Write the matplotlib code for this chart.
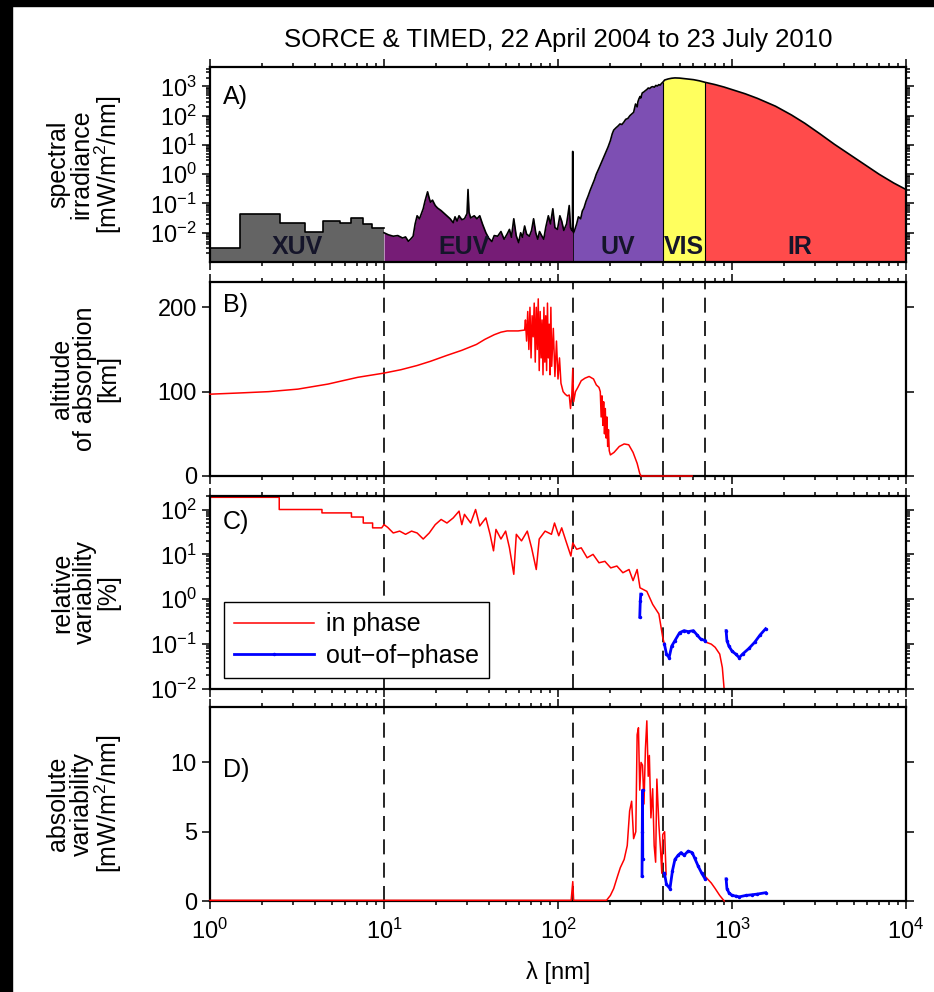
import numpy as np
import matplotlib
matplotlib.use('Agg')
import matplotlib.pyplot as plt
from matplotlib.patches import Rectangle
from matplotlib.lines import Line2D
from matplotlib.ticker import LogLocator, FixedLocator, NullFormatter, FixedFormatter
import matplotlib.transforms as mtransforms

plt.rcParams['font.family'] = ['Liberation Sans', 'DejaVu Sans']
plt.rcParams['mathtext.fontset'] = 'custom'
plt.rcParams['mathtext.rm'] = 'Liberation Sans'
plt.rcParams['mathtext.it'] = 'Liberation Sans:italic'
plt.rcParams['mathtext.bf'] = 'Liberation Sans:bold'
plt.rcParams['font.size'] = 17

nan = np.nan

# ---------------- data ----------------
title = "SORCE & TIMED, 22 April 2004 to 23 July 2010"
x_ticks = [1, 10, 100, 1000, 10000]
x_tick_labels = ['$10^{0}$', '$10^{1}$', '$10^{2}$', '$10^{3}$', '$10^{4}$']
region_bounds = [10, 121.6, 400, 700]
region_names = ['XUV', 'EUV', 'UV', 'VIS', 'IR']
region_label_pos = [3.16, 28.8, 221, 530, 2460]

# Panel A: spectral irradiance [mW/m^2/nm]
xuv_edges = [1.0, 1.49, 2.52, 3.51, 4.47, 5.6, 6.5, 7.6, 8.5, 10.0]
xuv_irr = [3.0e-3, 0.045, 0.022, 0.011, 0.026, 0.022, 0.033, 0.020, 0.014]

euv_lam = [10.0, 10.6, 11.3, 12.0, 12.8, 13.3, 13.8, 14.2, 14.7, 15.1,
           15.5, 16.0, 16.8, 17.2, 17.8, 18.2, 18.5, 19.0, 19.7, 20.3,
           21.3, 22.0, 23.0, 24.0, 25.0, 25.6, 26.3, 27.0, 28.0, 29.0,
           30.0, 30.4, 30.8, 31.5, 33.0, 34.2, 35.5, 36.8, 38.5, 40.0,
           41.7, 43.0, 45.0, 47.0, 49.0, 51.0, 52.6, 54.0, 55.7, 57.5,
           59.4, 61.0, 62.5, 64.3, 66.0, 68.5, 70.5, 72.4, 74.5, 76.5,
           78.3, 80.5, 82.8, 85.0, 88.0, 90.5, 93.4, 96.0, 99.3, 102.5,
           105.0, 108.0, 112.0, 114.0, 116.0, 118.0, 120.0, 121.2, 121.5, 121.6]
euv_irr = [0.010, 0.0085, 0.0076, 0.0080, 0.0066, 0.0072, 0.0051, 0.0060, 0.0076, 0.020,
           0.038, 0.030, 0.066, 0.12, 0.25, 0.15, 0.11, 0.13, 0.085, 0.070,
           0.057, 0.048, 0.038, 0.030, 0.022, 0.035, 0.025, 0.038, 0.028, 0.030,
           0.045, 0.30, 0.050, 0.032, 0.038, 0.030, 0.038, 0.020, 0.010, 0.0065,
           0.0050, 0.0080, 0.0076, 0.011, 0.0060, 0.0090, 0.013, 0.0070, 0.030, 0.0080,
           0.0046, 0.010, 0.0070, 0.017, 0.0090, 0.0076, 0.012, 0.030, 0.010, 0.0060,
           0.011, 0.0080, 0.0060, 0.015, 0.038, 0.020, 0.066, 0.015, 0.013, 0.038,
           0.025, 0.012, 0.020, 0.040, 0.085, 0.015, 0.012, 0.012, 6.0, 0.012]

uv_lam = [121.6, 123, 125, 128, 131, 135, 138, 141, 145, 149,
          153, 158, 162, 166, 172, 179, 186, 194, 200, 205,
          209, 215, 222, 227, 233, 239, 245, 252, 259, 266,
          272, 279, 285, 288, 292, 296, 299, 305, 312, 318,
          324, 330, 337, 344, 350, 358, 365, 372, 380, 386,
          393, 400]
uv_irr = [0.012, 0.010, 0.013, 0.020, 0.035, 0.030, 0.055, 0.07, 0.12, 0.18,
          0.28, 0.45, 0.65, 1.0, 1.6, 2.8, 4.8, 8.5, 14, 24,
          32, 38, 45, 52, 50, 60, 75, 80, 100, 115,
          130, 250, 200, 300, 380, 450, 400, 600, 650, 720,
          780, 880, 850, 950, 980, 940, 1080, 1030, 1150, 1100,
          1250, 1380]

vis_lam = [400, 410, 430, 450, 470, 500, 530, 560, 600, 650, 700]
vis_irr = [1380, 1650, 1800, 1900, 1950, 1920, 1850, 1800, 1700, 1550, 1380]

ir_lam = [700, 800, 900, 1000, 1190, 1400, 1780, 2200, 2620, 3200, 3880, 4700, 5750, 7000, 8500, 10000]
ir_irr = [1380, 1150, 950, 780, 560, 390, 210, 105, 55, 24, 10.5, 4.9, 2.2, 1.0, 0.5, 0.30]

# Panel B: altitude of absorption [km]
alt_lam = [1, 1.5, 2.17, 3.2, 4.77, 5.8, 7.07, 10, 12.5, 15.5,
           18.5, 23, 28, 34, 38, 43, 47, 51, 59, 64.3,
           65, 66, 67, 68, 69, 70, 71, 72, 73, 74,
           75, 76, 77, 78, 79, 80, 81, 82, 83, 84,
           85, 86, 87, 88, 89, 90, 91, 92, 94, 96,
           98, 100, 102, 104, 107, 110, 113, 116, 118, 120,
           121.6, 123, 126, 130, 136, 143, 151, 160, 166, 172,
           175, 177, 179, 181, 183, 185, 187, 189, 191, 193,
           195, 197, 200, 210, 225, 240, 255, 270, 285, 295,
           300, 590]
alt_km = [97, 98.5, 100, 103, 109, 113, 117, 122, 126, 131,
          136, 143, 149, 156, 162, 167.5, 170.5, 172, 172, 173,
          185, 160, 195, 150, 200, 140, 190, 165, 205, 135,
          200, 150, 210, 125, 195, 140, 185, 120, 200, 135,
          190, 125, 205, 140, 180, 120, 200, 130, 175, 118,
          160, 115, 140, 110, 100, 97, 95, 96, 80, 95,
          127, 88, 100, 105, 113, 116, 118, 115, 108, 105,
          100, 70, 95, 60, 88, 50, 80, 45, 70, 35,
          55, 30, 25, 28, 35, 38, 37, 28, 15, 3,
          0, 0]

# Panel C: relative variability [%]
rel_in_lam = [1, 2.5, 2.5, 4.4, 4.4, 6.5, 6.5, 7.6, 7.6, 8.6,
              8.6, 9.7, 10.0, 10.5, 11.3, 12.3, 13.3, 14.4, 15.5, 16.8,
              18.2, 19.7, 21.3, 23, 25, 27, 28, 29, 31.5, 33.6,
              35.5, 38.5, 40.7, 42.6, 44, 47, 50, 52.6, 55.7, 57.6,
              61.7, 66.6, 70.5, 75, 78, 84.3, 91.7, 95.5, 101, 105,
              111, 118.6, 121.6, 128, 136, 147, 159, 172, 186, 201,
              218, 236, 256, 270, 285, 296, 324, 350, 380, 400,
              409, nan, 710, 760, 800, 850, 880, 902]
rel_in_pct = [187, 187, 100, 100, 84, 84, 68, 68, 50, 50,
              39, 39, 46, 40, 30, 33, 28, 33, 30, 22,
              30, 46, 60, 50, 65, 92, 46, 78, 50, 100,
              43, 65, 28, 12, 36, 22, 33, 14, 3.6, 28,
              20, 33, 14, 4.6, 22, 33, 28, 50, 26, 39,
              20, 9.2, 18, 13, 14, 8.4, 10, 6.5, 7, 5,
              5.5, 3.9, 4.6, 2.6, 4.6, 1.8, 1.5, 0.77, 0.47, 0.14,
              0.1, nan, 0.11, 0.1, 0.085, 0.06, 0.03, 0.0095]
rel_out_lam = [295, 297, 299, nan,
               409, 420, 435, 450, 470, 500, 530, 560, 600, 630, 660, 700, nan,
               925, 935, 960, 1000, 1050, 1100, 1150, 1250, 1350, 1450, 1560]
rel_out_pct = [0.4, 0.9, 1.3, nan,
               0.1, 0.06, 0.05, 0.09, 0.12, 0.18, 0.2, 0.19, 0.2, 0.16, 0.13, 0.12, nan,
               0.2, 0.12, 0.09, 0.07, 0.06, 0.05, 0.06, 0.08, 0.11, 0.16, 0.22]

# Panel D: absolute variability [mW/m^2/nm]
abs_in_lam = [1, 10, 100, 119, 121.6, 123, 190, 200, 209, 220,
              228, 240, 250, 258, 265, 272, 280, 285, 290, 295,
              300, 306, 312, 318, 324, 330, 335, 342, 350, 357,
              364, 370, 380, 388, 395, 400, 410, 418, nan, 710,
              760, 800, 850, 902]
abs_in_val = [0.05, 0.05, 0.05, 0.05, 1.4, 0.05, 0.05, 0.4, 0.9, 1.8,
              2.4, 3.0, 4.0, 6.5, 7.2, 4.5, 5.0, 12.0, 12.5, 8.0,
              10.0, 9.8, 7.0, 11.0, 13.0, 9.0, 10.5, 6.0, 8.1, 4.0,
              2.8, 8.8, 5.5, 3.8, 2.0, 4.8, 5.0, 1.9, nan, 1.7,
              1.3, 0.9, 0.4, 0.0]
abs_out_lam = [304, 305, 306, 307, nan,
               409, 420, 440, 455, 470, 490, 510, 530, 560, 590, 610, 640, 670, 700, nan,
               925, 935, 960, 1000, 1060, 1100, 1200, 1300, 1400, 1560]
abs_out_val = [1.8, 5.0, 8.0, 3.0, nan,
               2.0, 1.2, 0.9, 2.2, 3.0, 3.3, 3.5, 3.3, 3.6, 3.5, 3.1, 2.5, 2.0, 1.6, nan,
               1.6, 0.9, 0.6, 0.4, 0.35, 0.3, 0.4, 0.45, 0.5, 0.6]

# ---------------- figure ----------------
W, H = 934, 992
fig = plt.figure(figsize=(W / 100, H / 100), dpi=100)
fig.patch.set_facecolor('white')


def px_axes(l, t, r, b):
    return fig.add_axes([l / W, 1 - b / H, (r - l) / W, (b - t) / H])


axA = px_axes(210, 67, 906, 262)
axB = px_axes(210, 282, 906, 476)
axC = px_axes(210, 496, 906, 689)
axD = px_axes(210, 707, 906, 901)
axes = [axA, axB, axC, axD]

for ax in axes:
    ax.set_xscale('log')
    ax.set_xlim(1, 1e4)
    ax.xaxis.set_major_locator(FixedLocator(x_ticks))
    ax.xaxis.set_minor_locator(LogLocator(base=10, subs=np.arange(2, 10), numticks=20))
    ax.xaxis.set_minor_formatter(NullFormatter())
    ax.tick_params(which='both', direction='out', top=True, right=True, width=1.1)
    ax.tick_params(which='major', length=6)
    ax.tick_params(which='minor', length=3)
    for s in ax.spines.values():
        s.set_linewidth(1.6)
for ax in [axA, axB, axC]:
    ax.tick_params(labelbottom=False)
axD.xaxis.set_major_formatter(FixedFormatter(x_tick_labels))
axD.tick_params(axis='x', pad=7)

# ---- Panel A ----
axA.set_yscale('log')
axA.set_ylim(1e-3, 4.6e3)
ybot = 1e-3
xe = np.array(xuv_edges)
xv = np.append(np.array(xuv_irr), xuv_irr[-1])
axA.fill_between(xe, ybot, xv, step='post', color='#646464', lw=0)
axA.fill_between(euv_lam, ybot, euv_irr, color='#761c76', lw=0)
axA.fill_between(uv_lam, ybot, uv_irr, color='#7d4fb3', lw=0)
axA.fill_between(vis_lam, ybot, vis_irr, color='#ffff5e', lw=0)
axA.fill_between(ir_lam, ybot, ir_irr, color='#ff4b4b', lw=0)
axA.step(xe, xv, where='post', color='k', lw=1.2)
outline_lam = list(euv_lam) + list(uv_lam) + list(vis_lam) + list(ir_lam)
outline_irr = list(euv_irr) + list(uv_irr) + list(vis_irr) + list(ir_irr)
axA.plot(outline_lam, outline_irr, color='k', lw=1.2)
axA.vlines([400, 700], ybot, [vis_irr[0], vis_irr[-1]], color='k', lw=0.8)
axA.vlines([121.6], ybot, [uv_irr[0]], color='k', lw=0.6)
axA.yaxis.set_major_locator(FixedLocator([1e-2, 1e-1, 1, 10, 100, 1000]))
axA.yaxis.set_major_formatter(FixedFormatter(['$10^{-2}$', '$10^{-1}$', '$10^{0}$', '$10^{1}$', '$10^{2}$', '$10^{3}$']))
axA.yaxis.set_minor_locator(LogLocator(base=10, subs=np.arange(2, 10), numticks=20))
axA.yaxis.set_minor_formatter(NullFormatter())
trA = mtransforms.blended_transform_factory(axA.transData, axA.transAxes)
for name, xp in zip(region_names, region_label_pos):
    axA.text(xp, 0.075, name, transform=trA, ha='center', va='center',
             fontsize=18, fontweight='bold', color='#15152a')

# ---- Panel B ----
axB.plot(alt_lam, alt_km, color='red', lw=1.1, zorder=3, clip_on=False)
axB.set_ylim(0, 230)
axB.yaxis.set_major_locator(FixedLocator([0, 100, 200]))

# ---- Panel C ----
axC.set_yscale('log')
axC.set_ylim(1e-2, 2e2)
axC.plot(rel_in_lam, rel_in_pct, color='red', lw=1.1)
axC.plot(rel_out_lam, rel_out_pct, color='blue', lw=2.0, marker='.', ms=3)
axC.yaxis.set_major_locator(FixedLocator([1e-2, 1e-1, 1, 10, 100]))
axC.yaxis.set_major_formatter(FixedFormatter(['$10^{-2}$', '$10^{-1}$', '$10^{0}$', '$10^{1}$', '$10^{2}$']))
axC.yaxis.set_minor_locator(LogLocator(base=10, subs=np.arange(2, 10), numticks=20))
axC.yaxis.set_minor_formatter(NullFormatter())
handles = [Line2D([], [], color='red', lw=1.1),
           Line2D([], [], color='blue', lw=2.0, marker='.', ms=3)]
leg = axC.legend(handles, ['in phase', 'out\u2212of\u2212phase'], loc='lower left',
                 bbox_to_anchor=(0.02, 0.058), fancybox=False, edgecolor='k',
                 framealpha=1, fontsize=18, handlelength=3.2, borderpad=0.4,
                 labelspacing=0.3, handletextpad=0.5, borderaxespad=0)
leg.get_frame().set_linewidth(1.0)

# ---- Panel D ----
axD.plot(abs_in_lam, abs_in_val, color='red', lw=1.1, zorder=3, clip_on=False)
axD.plot(abs_out_lam, abs_out_val, color='blue', lw=2.0, marker='.', ms=3, zorder=3)
axD.set_ylim(0, 14)
axD.yaxis.set_major_locator(FixedLocator([0, 5, 10]))

for ax in [axB, axC, axD]:
    for b in region_bounds:
        ax.axvline(b, color='k', lw=1.2, ls=(0, (9, 5)), zorder=1)

# panel letters
for ax, lab, yy in [(axA, 'A)', 0.846), (axB, 'B)', 0.88), (axC, 'C)', 0.865), (axD, 'D)', 0.675)]:
    ax.text(0.018, yy, lab, transform=ax.transAxes, ha='left', va='center', fontsize=18)

# y labels
ylabels = ['spectral\nirradiance\n[mW/m$^2$/nm]',
           'altitude\nof absorption\n[km]',
           'relative\nvariability\n[%]',
           'absolute\nvariability\n[mW/m$^2$/nm]']
for ax, lab in zip(axes, ylabels):
    pos = ax.get_position()
    fig.text(85 / W, pos.y0 + pos.height / 2, lab, rotation=90, ha='center', va='center',
             multialignment='center', fontsize=18, linespacing=0.95)

fig.text(558 / W, 1 - 40 / H, title, ha='center', va='center', fontsize=18.5)
fig.text(558 / W, 1 - 973 / H, '\u03bb [nm]', ha='center', va='center', fontsize=17)

# black border strips of the reference scan
fig.add_artist(Rectangle((0, 0), 12 / W, 1, transform=fig.transFigure, color='k', zorder=10))
fig.add_artist(Rectangle((0, 1 - 6 / H), 1, 6 / H, transform=fig.transFigure, color='k', zorder=10))

fig.savefig('out.png', dpi=100)
